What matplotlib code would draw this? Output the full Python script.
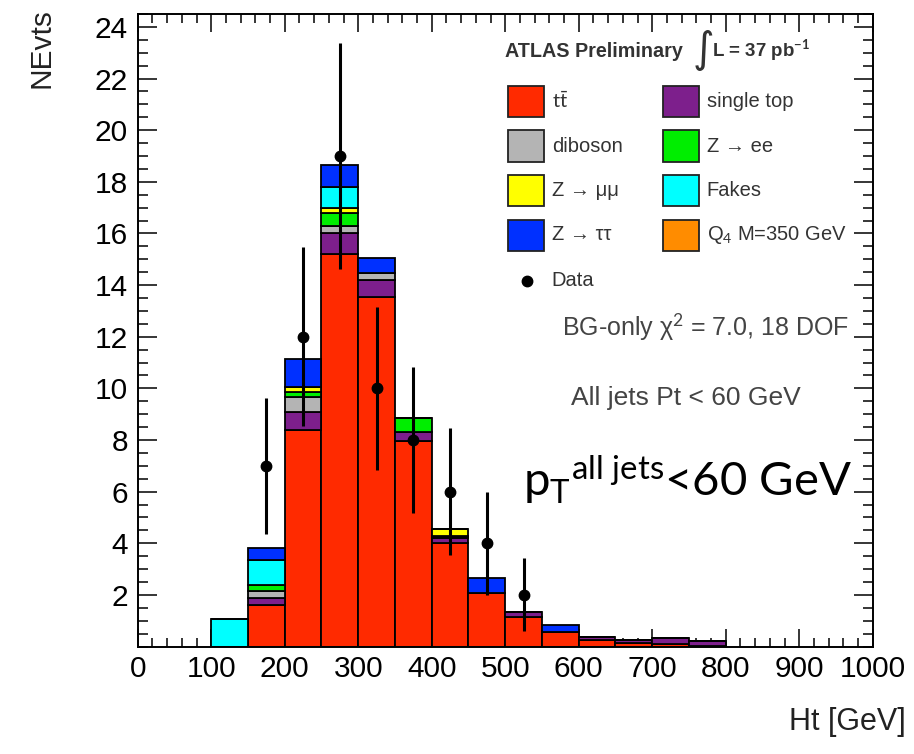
import numpy as np
import matplotlib
matplotlib.use("Agg")
import matplotlib.pyplot as plt
from matplotlib.patches import Rectangle
from matplotlib.lines import Line2D

plt.rcParams['font.family'] = ['Liberation Sans', 'DejaVu Sans']
plt.rcParams['mathtext.fontset'] = 'custom'
plt.rcParams['mathtext.rm'] = 'Lato'
plt.rcParams['mathtext.it'] = 'Lato:italic'
plt.rcParams['mathtext.bf'] = 'Lato:bold'

# Ht bins (lower edges, 50 GeV wide)
bin_lo = [100, 150, 200, 250, 300, 350, 400, 450, 500, 550, 600, 650, 700, 750]
bin_w = 50

# stacked backgrounds, bottom to top
ttbar     = [0, 1.62, 8.4, 15.2, 13.55, 7.95, 4.0, 2.07, 1.15, 0.58, 0.26, 0.15, 0.12, 0.04]
singletop = [0, 0.26, 0.7, 0.82, 0.65, 0.35, 0.2, 0, 0.18, 0, 0.12, 0.11, 0.2, 0.18]
diboson   = [0, 0.26, 0.55, 0.28, 0.25, 0, 0.05, 0, 0, 0, 0, 0, 0, 0]
zee       = [0, 0.26, 0.2, 0.5, 0, 0.55, 0.05, 0, 0, 0, 0, 0, 0, 0]
zmumu     = [0, 0, 0.2, 0.2, 0, 0, 0.25, 0, 0, 0, 0, 0, 0, 0]
fakes     = [1.05, 0.97, 0, 0.8, 0, 0, 0, 0, 0, 0, 0, 0, 0, 0]
ztautau   = [0, 0.45, 1.1, 0.85, 0.6, 0, 0, 0.58, 0, 0.26, 0, 0, 0, 0]

stack = [ttbar, singletop, diboson, zee, zmumu, fakes, ztautau]
stack_colors = ['#ff2a00', '#7d1f8c', '#b4b4b4', '#00ee00', '#ffff00', '#00ffff', '#0030ff']

# data points
data_x = [175, 225, 275, 325, 375, 425, 475, 525]
data_n = [7, 12, 19, 10, 8, 6, 4, 2]

# legend entries (two columns)
leg_col1 = [(r'$\mathrm{t\bar{t}}$', '#ff2a00'), ('diboson', '#b4b4b4'),
            ('Z → μμ', '#ffff00'), ('Z → ττ', '#0030ff')]
leg_col2 = [('single top', '#7d1f8c'), ('Z → ee', '#00ee00'),
            ('Fakes', '#00ffff'), (r'Q$_4$ M=350 GeV', '#ff8c00')]

W, H = 914, 754
fig = plt.figure(figsize=(W / 100, H / 100), dpi=100)
ax = fig.add_axes([137.7 / W, 1 - 646.6 / H, (872.7 - 137.7) / W, (646.6 - 14) / H])


def px(x, y):
    return x / W, 1 - y / H


bottom = np.zeros(len(bin_lo))
for vals, col in zip(stack, stack_colors):
    ax.bar(bin_lo, vals, width=bin_w, bottom=bottom, align='edge',
           color=col, edgecolor='black', linewidth=1.3, zorder=2)
    bottom += np.array(vals)

ax.errorbar(data_x, data_n, yerr=np.sqrt(data_n), fmt='o', color='black',
            ms=7.5, elinewidth=2.2, capsize=0, zorder=5)

ax.set_xlim(0, 1000)
ax.set_ylim(0, 24.5)
ax.set_xticks(np.arange(0, 1001, 100))
ax.set_xticks(np.arange(0, 1001, 20), minor=True)
ax.set_yticks(np.arange(2, 25, 2))
ax.set_yticks(np.arange(0, 24.6, 0.5), minor=True)
ax.tick_params(which='both', direction='in', top=True, right=True,
               labelsize=21.5, colors='black', width=1.1)
ax.tick_params(axis='x', which='major', length=13, pad=6)
ax.tick_params(axis='x', which='minor', length=6.5)
ax.tick_params(axis='y', which='major', length=14, pad=7)
ax.tick_params(axis='y', which='minor', length=7)
for sp in ax.spines.values():
    sp.set_linewidth(1.4)

fig.text(*px(42, 8), 'NEvts', rotation=90, ha='center', va='top',
         fontsize=21.5, color='#222222')
fig.text(*px(906, 722), 'Ht [GeV]', ha='right', va='center',
         fontsize=22, color='#222222')

# header
fig.text(*px(505, 57), 'ATLAS Preliminary', ha='left', va='baseline',
         fontsize=14.2, fontweight='bold', color='#333333')
fig.text(*px(703, 62), '∫', ha='center', va='baseline', fontsize=30,
         color='#333333', family=['DejaVu Sans'])
fig.text(*px(712, 57), r'L = 37 pb$^{\mathbf{-1}}$', ha='left', va='baseline',
         fontsize=13.5, fontweight='bold', color='#333333')

# legend
row_y = [101.7, 146, 190.7, 235]
for col_entries, bx, tx in [(leg_col1, 507.7, 551.7), (leg_col2, 662.7, 706.7)]:
    for (label, col), ry in zip(col_entries, row_y):
        x0, y0 = px(bx, ry + 15.5)
        fig.patches.append(Rectangle((x0, y0), 36 / W, 31 / H, transform=fig.transFigure,
                                     facecolor=col, edgecolor='#222222', linewidth=1.3))
        fig.text(*px(tx, ry), label, ha='left', va='center', fontsize=14.5, color='#333333')
fig.add_artist(Line2D([526.7 / W], [1 - 280.7 / H], marker='o', color='black', ms=7.5,
                      transform=fig.transFigure))
fig.text(*px(551.7, 280.7), 'Data', ha='left', va='center', fontsize=14.5, color='#333333')

fig.text(*px(705.5, 327), 'BG-only χ$^2$ = 7.0, 18 DOF', ha='center', va='center',
         fontsize=18, color='#444444')
fig.text(*px(686, 397.5), 'All jets Pt < 60 GeV', ha='center', va='center',
         fontsize=19, color='#444444')
fig.text(*px(523, 496), r'$\mathrm{p_T}^{\mathrm{all\ jets}}$<60 GeV', ha='left', va='baseline',
         fontsize=34, color='black', family=['Lato'])

fig.savefig('out.png', dpi=100)
